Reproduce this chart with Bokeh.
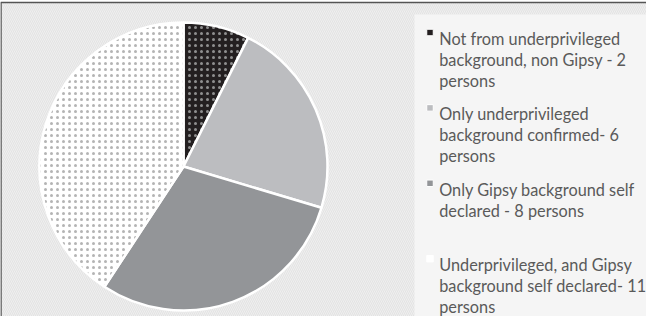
import numpy as np
from bokeh.plotting import figure
from bokeh.models import Range1d, ColumnDataSource
from bokeh.core.properties import value
from bokeh.embed import file_html
from bokeh.resources import INLINE

# ---- data ----
categories = [
    ["Not from underprivileged", "background, non Gipsy - 2", "persons"],
    [" Only underprivileged", "background confirmed- 6", "persons"],
    ["Only Gipsy background  self", "declared - 8 persons"],
    ["Underprivileged, and Gipsy", "background self declared- 11", "persons"],
]
counts = [2, 6, 8, 11]
fill_colors = ["#231f20", "#bcbdc0", "#939598", "#ffffff"]
hatch_patterns = ["dot", " ", " ", "dot"]
hatch_colors = ["#8f8f8f", "#bcbdc0", "#939598", "#b4b4b4"]

W, H = 646, 316
p = figure(width=W, height=H, output_backend="svg", toolbar_location=None,
           x_range=Range1d(0, W), y_range=Range1d(0, H), min_border=0)
p.axis.visible = False
p.grid.visible = False
p.outline_line_color = None
p.background_fill_color = "white"
p.border_fill_color = "white"

# page coords -> data: x = X - 8, y = 324 - Y
# chart area background with subtle diagonal texture
p.quad(left=0, right=W, bottom=-10, top=314, fill_color="#efefef",
       hatch_pattern="left_diagonal_line", hatch_color="#e0e0e0", hatch_scale=4,
       hatch_weight=0.8, line_color=None)
p.segment(x0=0.5, y0=-10, x1=0.5, y1=314, line_color="#555555", line_width=1.5)
p.segment(x0=0, y0=314, x1=W, y1=314, line_color="#555555", line_width=1.5)

# legend panel
p.quad(left=414, right=W, bottom=-1, top=302, fill_color="#f5f5f5", line_color=None)

# pie
total = sum(counts)
cum = np.cumsum([0] + counts)
start = np.pi / 2 - 2 * np.pi * cum[:-1] / total
end = np.pi / 2 - 2 * np.pi * cum[1:] / total
src = ColumnDataSource(dict(start=start, end=end, color=fill_colors,
                            hatch=hatch_patterns, hcolor=hatch_colors))
cx, cy, R = 183, 150, 144
p.wedge(x=cx, y=cy, radius=R, start_angle="start", end_angle="end", direction="clock",
        fill_color="color", hatch_pattern="hatch", hatch_color="hcolor",
        hatch_scale=6, hatch_weight=1, line_color="white", line_width=2.5, source=src)

# legend
y0 = 278
item_gap = 75.4
line_gap = 21
tx, ty, tt = [], [], []
for i, lines in enumerate(categories):
    for j, line in enumerate(lines):
        tx.append(438.7)
        ty.append(y0 - i * item_gap - j * line_gap)
        tt.append(line)
p.text(x=tx, y=ty, text=tt, text_font=value("Lato"), text_font_size="16.3px",
       text_color="#5a5a5a", text_baseline="alphabetic", text_align="left")

my = [y0 + 6 - i * item_gap for i in range(len(counts))]
p.rect(x=[429.5] * len(counts), y=my, width=6.5, height=6.5, fill_color=fill_colors,
       line_color="white", line_width=1)

open("out.html", "w").write(file_html(p, INLINE))
